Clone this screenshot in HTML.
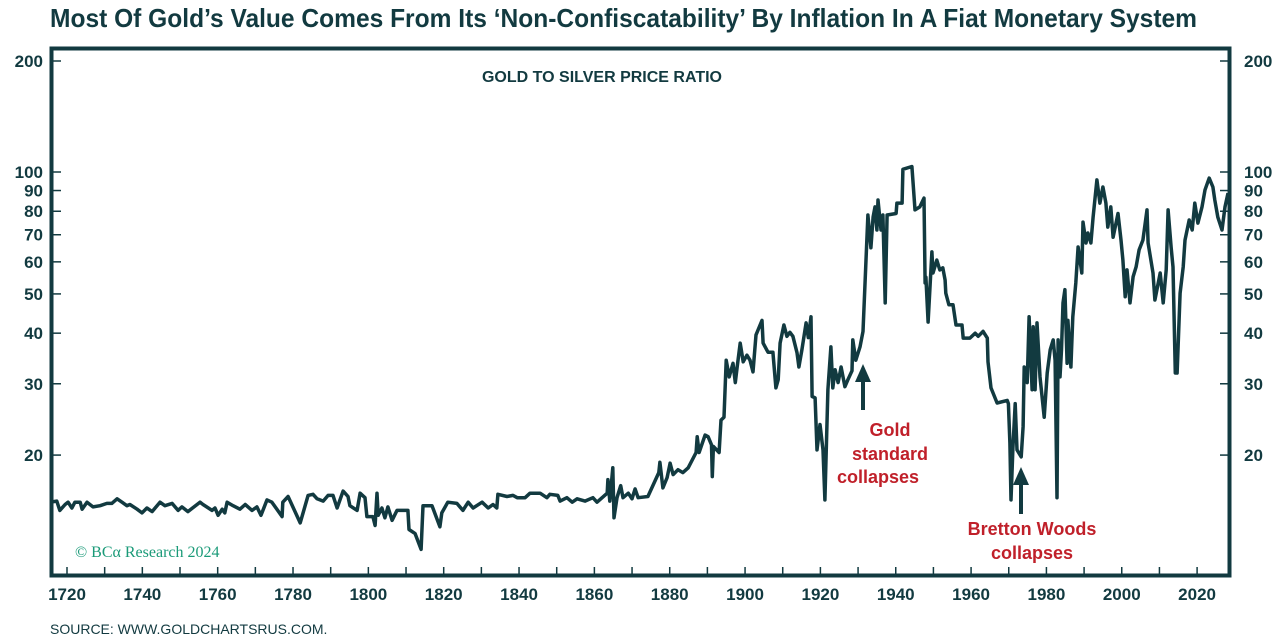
<!DOCTYPE html>
<html><head><meta charset="utf-8"><style>
html,body{margin:0;padding:0;background:#fff;}
svg{display:block;font-family:"Liberation Sans",sans-serif;}
</style></head><body>
<svg id="chart" width="1288" height="643" viewBox="0 0 1288 643" xmlns="http://www.w3.org/2000/svg">
<text x="50" y="27" font-size="26" font-weight="bold" fill="#123a40" textLength="1147" lengthAdjust="spacingAndGlyphs">Most Of Gold’s Value Comes From Its ‘Non-Confiscatability’ By Inflation In A Fiat Monetary System</text>
<text x="602" y="82" font-size="16" font-weight="bold" fill="#123a40" text-anchor="middle">GOLD TO SILVER PRICE RATIO</text>
<g id="ticks"></g>
<path id="series" fill="none" stroke="#123a40" stroke-width="3.5" stroke-linejoin="round"/>
<rect x="51.5" y="48.5" width="1178" height="527" fill="none" stroke="#123a40" stroke-width="4"/>
<text x="75" y="557" font-family="'Liberation Serif',serif" font-size="16" fill="#1a9a78">© BCα Research 2024</text>
<g fill="#c0202a" font-size="18" font-weight="bold" text-anchor="middle">
<line x1="863" y1="410" x2="863" y2="378" stroke="#123a40" stroke-width="4"/>
<polygon points="855,382 871,382 863,364" fill="#123a40"/>
<text x="890" y="436">Gold</text><text x="890" y="460">standard</text><text x="878" y="483">collapses</text>
</g>
<g fill="#c0202a" font-size="18" font-weight="bold" text-anchor="middle">
<line x1="1021" y1="514" x2="1021" y2="482" stroke="#123a40" stroke-width="4"/>
<polygon points="1013,485 1029,485 1021,467" fill="#123a40"/>
<text x="1032" y="535">Bretton Woods</text><text x="1032" y="559">collapses</text>
</g>
<text x="50" y="634" font-size="14" fill="#123a40">SOURCE: WWW.GOLDCHARTSRUS.COM.</text>
</svg>
<script>
const years=[1715.5,1717.3,1718.1,1719.5,1720.3,1721.3,1722.1,1723.5,1724,1725.3,1726.9,1728.8,1730.6,1731.9,1733.3,1734.6,1735.9,1736.7,1738.6,1739.9,1741.2,1742.6,1744.7,1746,1747.9,1749.5,1750.5,1752.1,1755.3,1756.1,1758.5,1759.3,1760.1,1761.2,1761.9,1762.5,1764.1,1765.9,1767.3,1769.1,1770.4,1771.5,1773.1,1774.4,1777.1,1777.3,1778.7,1781.9,
1784,1785.3,1786.4,1788,1789.3,1790.6,1791.7,1793.3,1794.6,1795.1,1797,1797.8,1799.1,1799.6,1801.2,1801.8,1802.3,1802.6,1803.6,1804.4,1805.2,1806.3,1807.6,1810.5,1810.8,1812.4,1814,1814.5,1816.9,1819,1819.5,1821.1,1823.5,1825.1,1826.5,1827.8,1830.2,1831.8,1833.1,1834.1,1834.4,1836.8,1838.4,1839.5,1841.6,1842.9,1845.6,1847.4,1848.2,1850.3,1850.9,1852.7,1854.1,1855.4,1857.5,1859.6,1860.7,1863.4,1863.6,1864.1,1864.9,1865.2,1866,1867,1867.6,1869,1870,1870.8,1871.6,1874.2,
1877.1,1877.4,1878.2,1879.3,1880.1,1880.9,1882.2,1883.5,1884.9,1887,1887.3,1887.8,1889.4,1890.2,1891.1,1891.3,1891.6,1893.1,1893.6,1894.4,1895,1895.8,1896.8,1897.4,1897.9,1898.7,1899.5,1900.5,1901.3,1902.1,1902.9,1904.5,1904.8,1906.1,1907.4,1908.2,1908.8,1909.3,1910.3,1911.1,1911.9,1912.7,1913.8,1914.3,1915.1,1916.2,1916.8,1917.5,1917.8,1918.6,1919.1,1919.9,1920.7,1921.2,1922,1922.8,1923.3,1923.9,1924.7,1925.5,1926.5,1927.3,1928.4,1928.6,1929.4,1930.5,1931.3,1932.1,1932.6,1933.4,1934,1934.5,1935,1935.3,1936.1,1936.6,1937.2,1937.7,1940.1,1940.3,1941.7,1941.9,1944.3,1945.1,1946.4,1947.5,1947.8,1948,1948.6,1949.6,1949.9,1950.9,1951.7,1952.5,1953.1,1953.3,1954.1,1955.2,1956,1957.6,1957.9,1959.7,1961.1,1961.9,1963.2,1964.3,1964.5,1965.3,1966.9,1969.6,1969.9,1970.3,1970.6,1971.1,1971.7,1972.2,1973.3,1973.8,1974.1,1974.9,1975.4,1976.2,1976.5,1977,1977.5,1978.3,1979.4,1980.2,1981,1981.8,1982.3,1982.8,1983.1,1983.6,1984,1984.4,1984.9,1985.5,1985.7,1986.5,1987,1987.8,1988.4,1989.4,1989.7,1990.5,1991,1991.8,1992.4,1993.4,1994.2,1995,1995.8,1996.3,1997.1,1997.7,1999,1999.8,2000.3,2000.9,2001.4,2002.2,2003,2003.8,2004.6,2005.6,2006.7,2007,2008.3,2008.8,2010.2,2011,2011.8,2012.3,2013.1,2013.6,2014.2,2014.7,2015.5,2016.3,2016.8,2017.9,2018.7,2019.4,2020.2,2021.3,2022.1,2023.2,2024.2,2024.7,2025.5,2026.6,2027.4,2028.2];
const ratios=[15.3,15.4,14.6,15.1,15.3,14.8,15.3,15.3,14.7,15.3,14.9,15.0,15.2,15.2,15.6,15.3,15.0,15.1,14.7,14.4,14.8,14.5,15.3,15.0,15.2,14.6,14.9,14.5,15.3,15.1,14.6,14.8,14.2,14.7,14.4,15.3,15.0,14.7,15.1,14.6,14.9,14.2,15.5,15.3,14.1,15.3,15.8,13.6,
15.9,16.0,15.6,15.4,15.9,15.9,14.8,16.3,15.8,15.0,14.6,16.1,15.7,14.1,14.1,13.4,16.1,14.2,14.8,14.0,14.9,13.8,14.6,14.6,13.1,12.8,11.7,15.0,15.0,13.3,14.4,15.3,15.2,14.6,15.3,14.8,15.3,14.8,15.1,14.8,16.0,15.8,15.9,15.7,15.7,16.1,16.1,15.7,16.0,15.9,15.4,15.7,15.3,15.6,15.4,15.7,15.3,16.1,17.4,15.4,18.6,14.0,15.7,16.8,15.7,16.1,15.6,16.5,15.7,15.8,
18.1,19.2,16.6,17.6,19.1,17.9,18.4,18.1,18.6,20.3,22.2,20.3,22.4,22.2,21.2,17.7,21.0,20.3,24.4,24.8,34.3,31.2,33.7,30.2,32.9,37.8,34.0,35.3,34.3,32.1,39.6,43.0,37.8,35.9,35.9,29.3,30.7,37.8,41.9,39.3,40.2,39.3,35.8,33.0,36.4,42.4,39.0,43.9,27.9,27.7,20.6,23.8,20.6,15.5,29.0,37.0,29.3,32.5,30.2,33.0,29.5,30.7,32.3,38.5,34.3,37.0,40.4,60.6,78.3,65.0,77.4,82.0,71.9,85.3,71.9,78.3,47.5,78.3,79.0,83.8,83.8,101.7,103.5,80.6,82.0,86.2,53.2,55.0,42.6,63.5,56.3,60.6,57.3,58.0,54.1,50.2,47.0,47.0,41.9,41.9,38.9,38.9,40.0,39.3,40.4,38.9,34.0,29.3,26.9,27.3,26.8,21.4,15.5,20.8,26.8,20.6,19.8,23.5,33.0,30.2,43.9,29.0,41.5,29.0,42.4,31.2,24.8,31.9,36.4,38.5,34.3,15.7,38.5,31.2,36.4,47.5,51.2,33.7,43.0,33.0,43.9,53.2,65.3,56.3,75.2,66.8,70.7,66.8,77.4,95.6,83.8,91.8,83.8,73.1,82.0,69.0,79.0,67.9,60.6,49.2,57.3,47.5,55.1,58.3,64.2,67.9,80.6,66.8,56.3,48.3,56.3,47.5,57.3,80.6,65.3,58.3,31.9,31.9,50.2,58.3,67.9,76.1,71.9,83.8,74.8,82.0,90.3,96.6,91.8,85.3,77.4,71.9,82.0,88.7];
const yTickValues=[20,30,40,50,60,70,80,90,100,200];
const yTickLabels=["20","30","40","50","60","70","80","90","100","200"];
const xTickYears=[1720,1740,1760,1780,1800,1820,1840,1860,1880,1900,1920,1940,1960,1980,2000,2020];

function xScale(yr){return 67+(yr-1720)*3.767;}
function yScale(v){
  if(v<=100) return 172+405*(2-Math.log10(v));
  return 172-(172-61)*(Math.log10(v)-2)/Math.log10(2);
}
const NS="http://www.w3.org/2000/svg";
const series=document.getElementById('series');
let d='';
for(let i=0;i<years.length;i++){d+=(i?'L':'M')+xScale(years[i]).toFixed(1)+','+yScale(ratios[i]).toFixed(1);}
series.setAttribute('d',d);
const g=document.getElementById('ticks');
yTickValues.forEach((v,i)=>{
  const y=yScale(v);
  const l=document.createElementNS(NS,'line');
  
  
  l.setAttribute('x1',51);l.setAttribute('x2',61);l.setAttribute('y1',y);l.setAttribute('y2',y);
  l.setAttribute('stroke','#123a40');l.setAttribute('stroke-width','1.5');g.appendChild(l);
  const r=document.createElementNS(NS,'line');
  
  
  r.setAttribute('x1',1220);r.setAttribute('x2',1230);r.setAttribute('y1',y);r.setAttribute('y2',y);
  r.setAttribute('stroke','#123a40');r.setAttribute('stroke-width','1.5');g.appendChild(r);
  const t=document.createElementNS(NS,'text');
  
  
  t.setAttribute('x',43);t.setAttribute('y',y+6);t.setAttribute('text-anchor','end');
  t.setAttribute('font-size','17');t.setAttribute('font-weight','bold');t.setAttribute('fill','#123a40');
  t.textContent=yTickLabels[i];g.appendChild(t);
  const t2=document.createElementNS(NS,'text');
  
  
  t2.setAttribute('x',1244);t2.setAttribute('y',y+6);
  t2.setAttribute('font-size','17');t2.setAttribute('font-weight','bold');t2.setAttribute('fill','#123a40');
  t2.textContent=yTickLabels[i];g.appendChild(t2);
});
for(let yr=1720;yr<=2020;yr+=10){
  const x=xScale(yr);
  const l=document.createElementNS(NS,'line');
  
  
  l.setAttribute('x1',x);l.setAttribute('x2',x);l.setAttribute('y1',567);l.setAttribute('y2',576);
  l.setAttribute('stroke','#123a40');l.setAttribute('stroke-width','1.5');g.appendChild(l);
}
xTickYears.forEach(yr=>{
  const t=document.createElementNS(NS,'text');
  
  
  t.setAttribute('x',xScale(yr));t.setAttribute('y',600);t.setAttribute('text-anchor','middle');
  t.setAttribute('font-size','17');t.setAttribute('font-weight','bold');t.setAttribute('fill','#123a40');
  t.textContent=String(yr);g.appendChild(t);
});
</script>
</body></html>
